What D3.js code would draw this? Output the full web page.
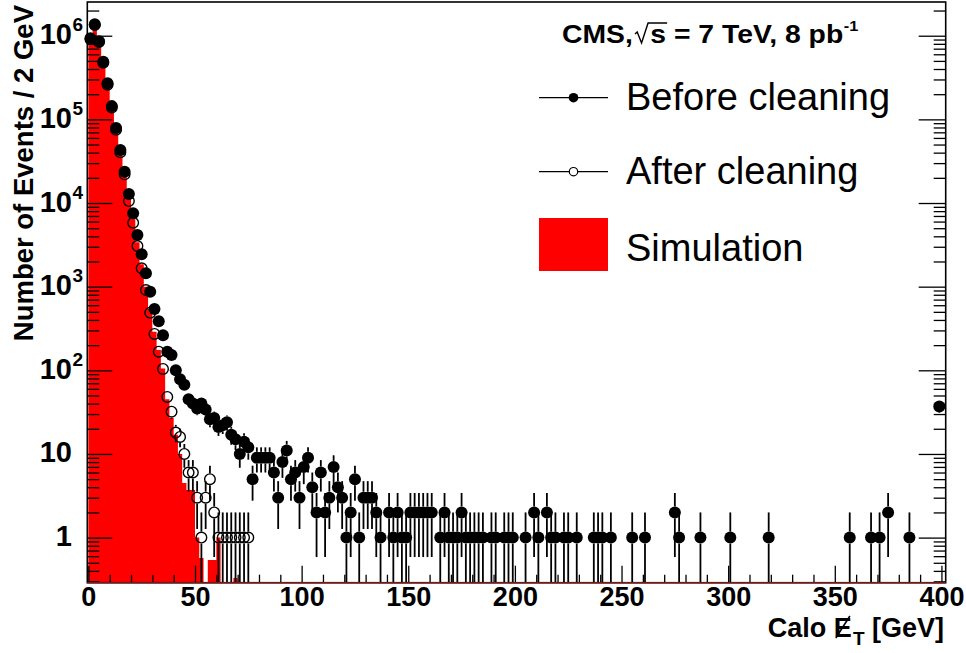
<!DOCTYPE html>
<html>
<head>
<meta charset="utf-8">
<script src="https://cdn.jsdelivr.net/npm/d3@7"></script>
<style>
  html, body { margin: 0; padding: 0; background: #fff; }
  svg { display: block; font-family: "Liberation Sans", Arial, Helvetica, sans-serif; }
</style>
</head>
<body>
<svg id="chart" width="966" height="653"></svg>
<script>
// 2 GeV bins: [bin centre in GeV, events]; empty bins are left out
var beforeCleaning = [
  [1,9.3e5],[3,1.37e6],[5,8.6e5],[7,4.9e5],[9,2.7e5],[11,1.44e5],[13,7.9e4],[15,4.3e4],
  [17,2.37e4],[19,1.28e4],[21,7530],[23,4140],[25,2440],[27,1445],[29,870],[31,541],
  [33,385],[35,262],[37,167],[39,152],[41,100],[43,78],[45,67],[47,45],[49,40],[51,35],
  [53,40],[55,34],[57,26],[59,27],[61,21],[63,22],[65,24],[67,17],[69,15],[71,10],[73,14],
  [75,12],[77,5],[79,9],[81,9],[83,9],[85,9],[87,6],[89,3],[91,8],[93,11],[95,5],[97,6],
  [99,3],[101,7],[103,9],[105,4],[107,2],[109,6],[111,2],[113,3],[115,7],[117,4],[119,3],
  [121,1],[123,2],[125,5],[127,1],[129,3],[131,3],[133,3],[135,2],[137,1],[141,2],[143,1],
  [145,2],[147,1],[149,1],[151,2],[153,2],[155,2],[157,2],[159,2],[161,2],[165,1],[167,2],
  [169,1],[171,1],[173,1],[175,2],[177,1],[179,1],[181,1],[183,1],[185,1],[189,1],[191,1],
  [195,1],[197,1],[199,1],[205,1],[209,2],[211,1],[215,2],[217,1],[219,1],[223,1],[225,1],
  [229,1],[237,1],[239,1],[241,1],[245,1],[255,1],[261,1],[275,2],[277,1],[287,1],[301,1],
  [319,1],[357,1],[367,1],[371,1],[375,2],[385,1],[399,37]
];
var afterCleaning = [
  [1,9.1e5],[3,1.34e6],[5,8.4e5],[7,4.75e5],[9,2.6e5],[11,1.39e5],[13,7.5e4],[15,4.05e4],
  [17,2.2e4],[19,10560],[21,5820],[23,3060],[25,1660],[27,912],[29,489],[31,272],[33,167],
  [35,104],[37,48],[39,32],[41,18],[43,16],[45,10],[47,6],[49,6],[51,3],[53,1],[55,3],
  [57,5],[59,2],[61,1],[63,1],[65,1],[67,1],[69,1],[71,1],[73,1],[75,1]
];
var simulation = [
  [1,9.5e5],[3,1.2e6],[5,8.8e5],[7,5.5e5],[9,3.0e5],[11,1.6e5],[13,8.6e4],[15,4.7e4],
  [17,2.5e4],[19,1.2e4],[21,6500],[23,3400],[25,1850],[27,1000],[29,540],[31,290],[33,175],
  [35,105],[37,45],[39,27],[41,17],[43,10],[45,4.5],[47,3.7],[49,3.7],[51,1.0],[53,0.57],
  [57,0.54],[59,0.54],[61,1.0],[69,0.33]
];
var xTicks = [0, 50, 100, 150, 200, 250, 300, 350, 400];
var yDecades = [1, 10, 100, 1e3, 1e4, 1e5, 1e6];
var legendLabels = ["Before cleaning", "After cleaning", "Simulation"];

var svg = d3.select("#chart");
var frameL = 87.3, frameR = 945.7, frameT = 2, frameB = 582.7;
var binWidth = 2;
var labelFont = "Liberation Sans, Arial, sans-serif";

var x = d3.scaleLinear().domain([-0.5, 402]).range([frameL, frameR]);
var y = d3.scaleLog().domain([0.289, 2.53e6]).range([frameB, frameT]).clamp(true);
var yMin = y.domain()[0];

svg.append("rect").attr("width", 966).attr("height", 653).attr("fill", "#fff");

// simulation histogram as a step area over all bins
var simMap = new Map(simulation);
var steps = d3.range(0, 400, binWidth).map(function(lo) { return [lo, simMap.get(lo + binWidth / 2) || 0]; });
steps.push([400, 0]);
svg.append("path")
  .datum(steps)
  .attr("fill", "#ff0000")
  .attr("d", d3.area()
    .x(function(d) { return x(d[0]); })
    .y0(frameB)
    .y1(function(d) { return y(Math.max(d[1], yMin)); })
    .curve(d3.curveStepAfter));

// data points with sqrt(N) error bars, bars stop at the marker edge
function drawPoints(data, r, filled) {
  var g = svg.append("g");
  function hi(d) { return y(d[1] + Math.sqrt(d[1])); }
  function lo(d) { return y(Math.max(d[1] - Math.sqrt(d[1]), yMin)); }
  g.selectAll("line.hi").data(data).join("line")
    .attr("x1", function(d) { return x(d[0]); })
    .attr("x2", function(d) { return x(d[0]); })
    .attr("y1", hi)
    .attr("y2", function(d) { return Math.max(y(d[1]) - r, hi(d)); })
    .attr("stroke", "#000").attr("stroke-width", 1.8);
  g.selectAll("line.lo").data(data).join("line")
    .attr("x1", function(d) { return x(d[0]); })
    .attr("x2", function(d) { return x(d[0]); })
    .attr("y1", function(d) { return Math.min(y(d[1]) + r, lo(d)); })
    .attr("y2", lo)
    .attr("stroke", "#000").attr("stroke-width", 1.8);
  g.selectAll("circle").data(data).join("circle")
    .attr("cx", function(d) { return x(d[0]); })
    .attr("cy", function(d) { return y(d[1]); })
    .attr("r", filled ? r : r - 0.7)
    .attr("fill", filled ? "#000" : "none")
    .attr("stroke", "#000")
    .attr("stroke-width", filled ? 0 : 1.4);
}
drawPoints(afterCleaning, 6, false);
drawPoints(beforeCleaning, 6, true);

// axes, ticks pointing into the frame
function tidy(g) {
  g.select(".domain").remove();
  g.selectAll(".tick line").attr("stroke", "#000").attr("stroke-width", 1.3);
}
var xMinor = d3.range(0, 401, 10).filter(function(v) { return v % 50 !== 0; });
svg.append("g").attr("transform", "translate(0," + frameB + ")")
  .call(d3.axisBottom(x).tickValues(xMinor).tickSize(-8).tickFormat(""))
  .call(tidy);
var xAxis = svg.append("g").attr("transform", "translate(0," + frameB + ")")
  .call(d3.axisBottom(x).tickValues(xTicks).tickSize(-17).tickPadding(4).tickFormat(d3.format("d")))
  .call(tidy);
xAxis.selectAll("text").attr("font-size", 27).attr("font-weight", "bold")
  .attr("font-family", labelFont).attr("fill", "#000");

var yMinor = [];
d3.range(-1, 7).forEach(function(k) {
  d3.range(2, 10).forEach(function(m) {
    var v = m * Math.pow(10, k);
    if (v >= yMin && v <= y.domain()[1]) yMinor.push(v);
  });
});
[[d3.axisLeft, frameL, "yleft", 25], [d3.axisRight, frameR, "yright", 27]].forEach(function(a) {
  svg.append("g").attr("transform", "translate(" + a[1] + ",0)")
    .call(a[0](y).tickValues(yMinor).tickSize(-12).tickFormat(""))
    .call(tidy);
  svg.append("g").attr("class", a[2]).attr("transform", "translate(" + a[1] + ",0)")
    .call(a[0](y).tickValues(yDecades).tickSize(-a[3]).tickFormat(""))
    .call(tidy);
});

// decade labels: "1", "10", then 10 with a raised exponent
svg.select(".yleft").selectAll(".tick").each(function(d) {
  var t = d3.select(this);
  var p = Math.round(Math.log10(d));
  t.select("text").remove();
  t.append("text").attr("x", 72 - frameL).attr("y", 8)
    .attr("text-anchor", "end").attr("font-size", 29).attr("font-weight", "bold").attr("fill", "#000")
    .attr("font-family", labelFont)
    .text(p === 0 ? "1" : "10");
  if (p > 1) {
    t.append("text").attr("x", 72 - frameL + 0.5).attr("y", -5)
      .attr("text-anchor", "start").attr("font-size", 19).attr("font-weight", "bold").attr("fill", "#000")
      .attr("font-family", labelFont)
      .text(p);
  }
});

// frame
svg.append("rect").attr("x", frameL).attr("y", frameT)
  .attr("width", frameR - frameL).attr("height", frameB - frameT)
  .attr("fill", "none").attr("stroke", "#000").attr("stroke-width", 1.6);
svg.append("line").attr("x1", frameL).attr("x2", frameR).attr("y1", frameB).attr("y2", frameB)
  .attr("stroke", "#7a1818").attr("stroke-width", 1.6);

// axis titles
svg.append("text").attr("transform", "translate(33,5) rotate(-90)")
  .attr("text-anchor", "end").attr("font-size", 27.5).attr("font-weight", "bold")
  .text("Number of Events / 2 GeV");

// x title: E with a slash drawn through it, T as subscript
var titleY = 637;
var xt = svg.append("text").attr("x", 944).attr("y", titleY)
  .attr("text-anchor", "end").attr("font-size", 27).attr("font-weight", "bold");
xt.append("tspan").text("Calo E");
xt.append("tspan").attr("dx", 1).attr("dy", 8).attr("font-size", 19).text("T");
xt.append("tspan").attr("dy", -8).text(" [GeV]");
var eBox = xt.node().getExtentOfChar(5);
svg.append("line")
  .attr("x1", eBox.x + 2).attr("y1", titleY + 1)
  .attr("x2", eBox.x + eBox.width - 2).attr("y2", titleY - 21)
  .attr("stroke", "#000").attr("stroke-width", 1.6);

// header line, laid out piece by piece, then widened a little like the original
var hx = 562, hy = 43;
var head = svg.append("g").attr("font-weight", "bold").attr("font-size", 26)
  .attr("transform", "translate(562,0) scale(1.09,1) translate(-562,0)");
var t1 = head.append("text").attr("x", hx).attr("y", hy).text("CMS,");
hx += t1.node().getComputedTextLength() + 2;
var sw = head.append("text").attr("x", hx + 14).attr("y", hy).text("s");
var sW = sw.node().getComputedTextLength();
head.append("path")
  .attr("d", "M" + hx + "," + (hy - 9) + "L" + (hx + 2) + "," + (hy - 11) + "L" + (hx + 6) + "," + hy +
    "L" + (hx + 12) + "," + (hy - 20) + "L" + (hx + 15 + sW) + "," + (hy - 20))
  .attr("fill", "none").attr("stroke", "#000").attr("stroke-width", 1.3);
hx += 14 + sW;
var t3 = head.append("text").attr("x", hx).attr("y", hy).attr("xml:space", "preserve").text(" = 7 TeV, 8 pb");
hx += t3.node().getComputedTextLength();
head.append("text").attr("x", hx + 0.5).attr("y", hy - 12).attr("font-size", 15).text("-1");

// legend
var leg = svg.append("g");
[97.7, 171.7].forEach(function(ly, i) {
  leg.append("line").attr("x1", 539).attr("x2", 608).attr("y1", ly).attr("y2", ly)
    .attr("stroke", "#000").attr("stroke-width", 1.3);
  leg.append("circle").attr("cx", 573.5).attr("cy", ly).attr("r", i === 0 ? 4.8 : 4.2)
    .attr("fill", i === 0 ? "#000" : "#fff").attr("stroke", "#000").attr("stroke-width", i === 0 ? 0 : 1.2);
});
leg.append("rect").attr("x", 539).attr("y", 218).attr("width", 69).attr("height", 53).attr("fill", "#ff0000");
[110, 184, 261].forEach(function(by, i) {
  leg.append("text").attr("x", 626).attr("y", by).attr("font-size", 38).text(legendLabels[i]);
});
</script>
</body>
</html>
